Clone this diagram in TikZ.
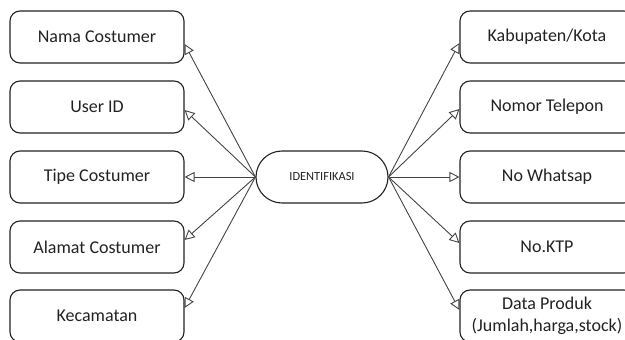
\documentclass[tikz,border=0pt]{standalone}
\usepackage{fontspec}
\setmainfont{Carlito}
\usetikzlibrary{arrows.meta,shapes.misc}
\definecolor{txt}{HTML}{222222}
\definecolor{ln}{HTML}{444444}
\begin{document}
\begin{tikzpicture}[x=1pt,y=-1pt,
  box/.style={draw=txt,line width=1.1pt,rounded corners=10pt,minimum width=174pt,minimum height=52pt,
    inner sep=0pt,align=center,text=txt,font=\fontsize{18}{22}\selectfont},
  hub/.style={draw=txt,line width=1.1pt,rounded rectangle,minimum width=132pt,minimum height=52pt,
    inner sep=0pt,text=txt,font=\fontsize{12.4}{14}\selectfont},
  arr/.style={draw=ln,line width=0.9pt,-{Triangle[open,length=10pt,width=10pt]}}]
\useasboundingbox (0,0) rectangle (625,340);
\node[hub] (c) at (322,177) {IDENTIFIKASI};
\node[box] (l1) at (97,37) {Nama Costumer};
\node[box] (l2) at (97,107) {User ID};
\node[box] (l3) at (97,177) {Tipe Costumer};
\node[box] (l4) at (97,247) {Alamat Costumer};
\node[box] (l5) at (97,316) {Kecamatan};
\node[box] (r1) at (547,37) {Kabupaten/Kota};
\node[box] (r2) at (547,107) {Nomor Telepon};
\node[box] (r3) at (547,177) {No Whatsap};
\node[box] (r4) at (547,247) {No.KTP};
\node[box] (r5) at (547,316) {Data Produk\\(Jumlah,harga,stock)};
\draw[arr] (c.west) -- ([yshift=-7pt]l1.east);
\draw[arr] (c.west) -- ([yshift=-3pt]l2.east);
\draw[arr] (c.west) -- (l3.east);
\draw[arr] (c.west) -- ([yshift=7pt]l4.east);
\draw[arr] (c.west) -- ([yshift=8pt]l5.east);
\draw[arr] (c.east) -- ([yshift=-6pt]r1.west);
\draw[arr] (c.east) -- ([yshift=-2pt]r2.west);
\draw[arr] (c.east) -- (r3.west);
\draw[arr] (c.east) -- ([yshift=4pt]r4.west);
\draw[arr] (c.east) -- ([yshift=6pt]r5.west);
\end{tikzpicture}
\end{document}
